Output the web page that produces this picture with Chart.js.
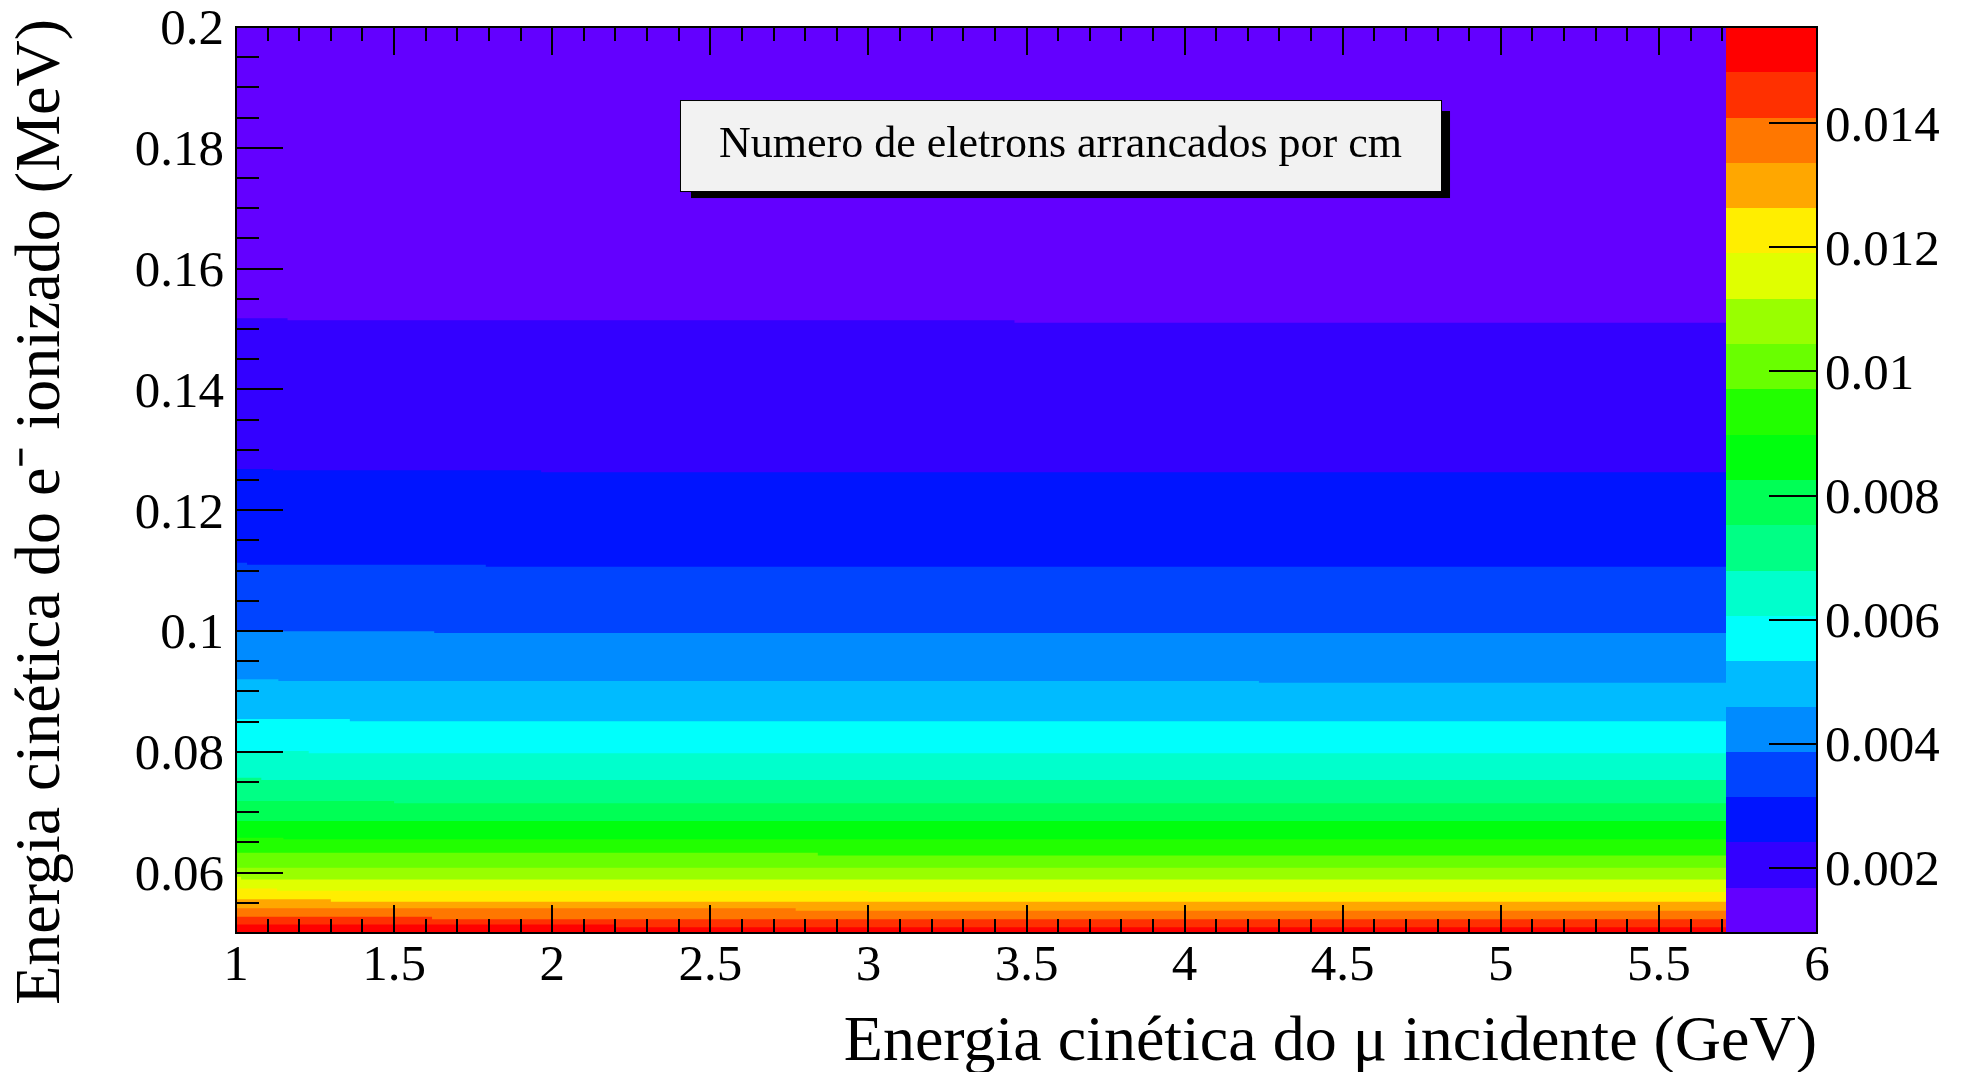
<!DOCTYPE html>
<html>
<head>
<meta charset="utf-8">
<script src="https://cdn.jsdelivr.net/npm/chart.js@4.4.1/dist/chart.umd.min.js"></script>
<style>
  html, body { margin: 0; padding: 0; background: #fff; }
</style>
</head>
<body>
<canvas id="grafico" width="1967" height="1072"></canvas>
<script>
let ctx = document.getElementById('grafico')

const fonte = '"Liberation Serif", "Times New Roman", serif'
Chart.defaults.font.family = fonte
Chart.defaults.color = '#000'

// textos
const tituloHist = 'Numero de eletrons arrancados por cm'
const tituloX = 'Energia cinética do μ incidente (GeV)'
const tituloY = 'Energia cinética do e⁻ ionizado (MeV)'

// ticks dos eixos
const ticksX = [1, 1.5, 2, 2.5, 3, 3.5, 4, 4.5, 5, 5.5, 6]
const ticksY = [0.06, 0.08, 0.1, 0.12, 0.14, 0.16, 0.18, 0.2]
const ticksZ = [0.002, 0.004, 0.006, 0.008, 0.01, 0.012, 0.014]

// niveis de contorno do eixo z (20 faixas)
const niveisZ = [0.00095, 0.00168, 0.00241, 0.00314, 0.00387, 0.0046, 0.00533, 0.00606, 0.00679, 0.00752,
  0.00825, 0.00898, 0.00971, 0.01044, 0.01117, 0.0119, 0.01263, 0.01336, 0.01409, 0.01482, 0.01555]

// paleta padrao do ROOT (violeta -> vermelho), uma cor por faixa
const paleta = ['#6300ff', '#3300ff', '#0014ff', '#0044ff', '#008bff', '#00bbff', '#00fffc', '#00ffcc',
  '#00ff85', '#00ff55', '#00ff0e', '#22ff00', '#69ff00', '#99ff00', '#e0ff00', '#ffee00',
  '#ffa700', '#ff7700', '#ff3000', '#ff0000']

// topo do histograma
const topoY = 0.2

// fronteiras entre as faixas de cor, de cima para baixo
// fronteiraX: onde a fronteira muda de altura, fronteiraY: altura (MeV) a partir desse x
const fronteiraX = [
  [1, 1.163, 3.462],
  [1, 1.117, 1.965],
  [1, 1.035, 1.79],
  [1, 1.627],
  [1, 1.134, 4.235],
  [1, 1.36],
  [1, 1.23],
  [1, 1.08],
  [1, 1.5],
  [1],
  [1, 1.15],
  [1, 2.84],
  [1],
  [1, 1.016],
  [1, 1.13, 3.0],
  [1, 1.3],
  [1, 2.77],
  [1, 1.62],
  [1, 2.2]
]
const fronteiraY = [
  [0.15177, 0.15144, 0.15104],
  [0.12682, 0.12661, 0.12627],
  [0.11131, 0.11098, 0.11065],
  [0.09995, 0.09967],
  [0.09202, 0.09172, 0.09143],
  [0.08543, 0.08507],
  [0.08013, 0.07977],
  [0.07571, 0.07533],
  [0.07185, 0.07147],
  [0.06854],
  [0.06578, 0.06551],
  [0.06329, 0.06283],
  [0.06081],
  [0.05932, 0.05886],
  [0.05737, 0.05700, 0.05679],
  [0.05558, 0.05518],
  [0.05409, 0.05368],
  [0.05270, 0.05227],
  [0.05141, 0.05094]
]

const xMin = 1, xMax = 6
const yMin = 0.05, yMax = 0.2
const inicioPaleta = 5.712   // a paleta cobre o fim do eixo x

// cada linha preenche ate o fundo; a de baixo fica por cima
const linhas = [{xs: [xMin], ys: [topoY]}].concat(fronteiraX.map((xs, i) => ({xs, ys: fronteiraY[i]})))

const datasets = linhas.map((l, k) => {
  const pts = l.xs.map((x, i) => ({x, y: l.ys[i]}))
  pts.push({x: xMax, y: l.ys[l.ys.length - 1]})
  return {
    data: pts,
    stepped: true,
    fill: 'start',
    backgroundColor: paleta[k],
    borderColor: 'rgba(0,0,0,0)',
    borderWidth: 0,
    pointRadius: 0,
    order: linhas.length - k
  }
})

// ticks pra dentro, paleta, moldura e caixa do titulo (estilo ROOT)
const enfeites = {
  id: 'enfeites',
  afterDatasetsDraw(chart) {
    const {ctx, chartArea: a, scales: {x, y, z}} = chart
    ctx.save()
    ctx.strokeStyle = '#000'
    ctx.lineWidth = 2
    ctx.beginPath()
    for (let i = 1; i < 50; i++) {
      const px = Math.round(x.getPixelForValue(xMin + i * 0.1))
      const len = i % 5 === 0 ? 28 : 14
      ctx.moveTo(px, a.bottom); ctx.lineTo(px, a.bottom - len)
      ctx.moveTo(px, a.top); ctx.lineTo(px, a.top + len)
    }
    for (let i = 1; i < 30; i++) {
      const py = Math.round(y.getPixelForValue(yMin + i * 0.005))
      const len = (50 + 5 * i) % 20 === 0 ? 47 : 23
      ctx.moveTo(a.left, py); ctx.lineTo(a.left + len, py)
    }
    ctx.stroke()

    // paleta
    const xp = Math.round(x.getPixelForValue(inicioPaleta))
    for (let j = 0; j < paleta.length; j++) {
      const yTop = Math.round(z.getPixelForValue(niveisZ[j + 1]))
      const yBot = Math.round(z.getPixelForValue(niveisZ[j]))
      ctx.fillStyle = paleta[j]
      ctx.fillRect(xp, yTop, a.right - xp, yBot - yTop)
    }
    ctx.beginPath()
    ticksZ.forEach(v => {
      const py = Math.round(z.getPixelForValue(v))
      ctx.moveTo(a.right, py); ctx.lineTo(a.right - 48, py)
    })
    ctx.stroke()

    // moldura
    ctx.strokeRect(a.left, a.top, a.right - a.left, a.bottom - a.top)
    ctx.restore()
  },
  afterDraw(chart) {
    const {ctx, width, height} = chart
    const x0 = 0.3457 * width, x1 = 0.7326 * width
    const y0 = 0.0933 * height, y1 = 0.1782 * height
    ctx.save()
    ctx.fillStyle = '#000'
    ctx.fillRect(x0 + 11, y0 + 11, x1 - x0 - 2, y1 - y0 - 4)
    ctx.fillStyle = '#f2f2f2'
    ctx.fillRect(x0, y0, x1 - x0, y1 - y0)
    ctx.strokeStyle = '#000'
    ctx.lineWidth = 1
    ctx.strokeRect(x0 + 0.5, y0 + 0.5, x1 - x0, y1 - y0)
    ctx.fillStyle = '#000'
    ctx.font = '44px ' + fonte
    ctx.textAlign = 'center'
    ctx.textBaseline = 'middle'
    ctx.fillText(tituloHist, (x0 + x1) / 2, (y0 + y1) / 2)

    // titulo do eixo y, alinhado ao topo como no ROOT (passa um pouco da moldura)
    ctx.translate(42, chart.chartArea.top - 8)
    ctx.rotate(-Math.PI / 2)
    ctx.font = '64px ' + fonte
    ctx.textAlign = 'right'
    ctx.fillText(tituloY, 0, 0)
    ctx.restore()
  }
}

const semPadding = s => { s.paddingTop = 0; s.paddingBottom = 0; s.paddingLeft = 0; s.paddingRight = 0 }

const fonteTick = {family: fonte, size: 51, lineHeight: 1}

const config = {
  type: 'line',
  data: {datasets},
  options: {
    responsive: false,
    animation: false,
    layout: {autoPadding: false, padding: {top: 27, left: 0, right: 0, bottom: 0}},
    plugins: {legend: {display: false}, tooltip: {enabled: false}},
    scales: {
      x: {
        type: 'linear', min: xMin, max: xMax,
        afterBuildTicks: s => { s.ticks = ticksX.map(v => ({value: v})) },
        afterFit: s => { s.height = 139; semPadding(s) },
        grid: {display: false, drawTicks: false},
        border: {display: false},
        ticks: {font: fonteTick, padding: 8, maxRotation: 0, autoSkip: false, callback: v => String(v)},
        title: {display: true, text: tituloX, align: 'end', font: {family: fonte, size: 64, lineHeight: 0.8}, padding: {top: 0, bottom: 3}}
      },
      y: {
        type: 'linear', min: yMin, max: yMax, position: 'left',
        afterBuildTicks: s => { s.ticks = ticksY.map(v => ({value: v})) },
        afterFit: s => { s.width = 236; semPadding(s) },
        grid: {display: false, drawTicks: false},
        border: {display: false},
        ticks: {font: fonteTick, padding: 12, labelOffset: 4, autoSkip: false, callback: v => String(v)}
      },
      z: {
        type: 'linear', min: niveisZ[0], max: niveisZ[niveisZ.length - 1], position: 'right',
        afterBuildTicks: s => { s.ticks = ticksZ.map(v => ({value: v})) },
        afterFit: s => { s.width = 150; semPadding(s) },
        grid: {display: false, drawTicks: false},
        border: {display: false},
        ticks: {font: fonteTick, padding: 8, labelOffset: 4, autoSkip: false, callback: v => String(v)}
      }
    }
  },
  plugins: [enfeites]
}

const graph = new Chart(ctx, config)
</script>
</body>
</html>
